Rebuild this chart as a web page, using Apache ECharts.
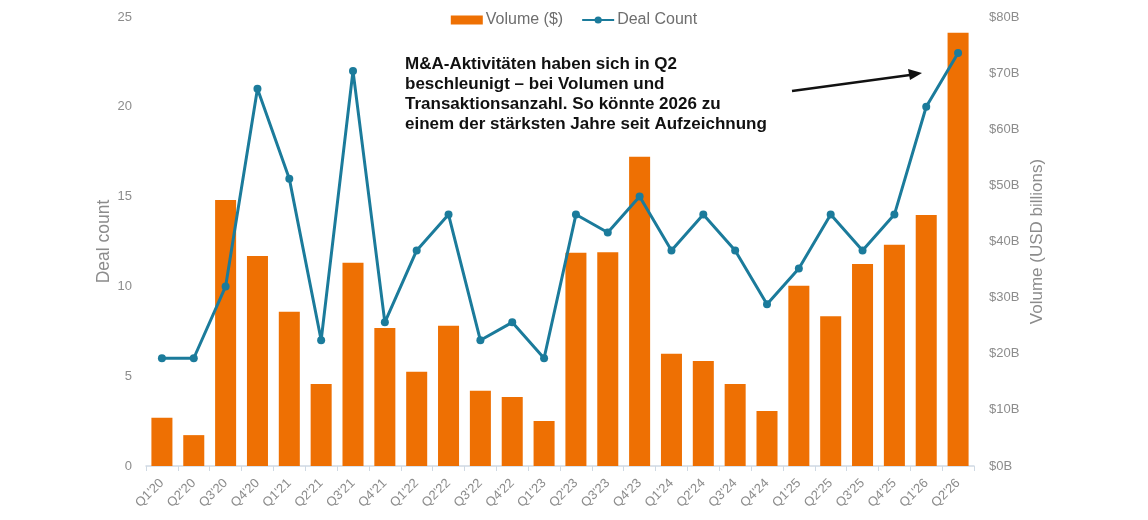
<!DOCTYPE html>
<html>
<head>
    <meta charset="utf-8">
    <title>M&amp;A Volume and Deal Count</title>
    <script src="https://cdn.jsdelivr.net/npm/echarts@6/dist/echarts.min.js"></script>
    <style>
        html, body { margin: 0; padding: 0; background: #fff; }
    </style>
</head>
<body>
    <div id="main" style="width: 1148px;height:520px;"></div>
    <script type="text/javascript">
        var quarters = ["Q1'20", "Q2'20", "Q3'20", "Q4'20", "Q1'21", "Q2'21", "Q3'21", "Q4'21",
            "Q1'22", "Q2'22", "Q3'22", "Q4'22", "Q1'23", "Q2'23", "Q3'23", "Q4'23",
            "Q1'24", "Q2'24", "Q3'24", "Q4'24", "Q1'25", "Q2'25", "Q3'25", "Q4'25",
            "Q1'26", "Q2'26"];
        // volume in USD billions
        var volume = [8.6, 5.5, 47.4, 37.4, 27.5, 14.6, 36.2, 24.6,
            16.8, 25.0, 13.4, 12.3, 8.0, 38.0, 38.1, 55.1,
            20.0, 18.7, 14.6, 9.8, 32.1, 26.7, 36.0, 39.4,
            44.7, 77.2];
        var dealCount = [6, 6, 10, 21, 16, 7, 22, 8,
            12, 14, 7, 8, 6, 14, 13, 15,
            12, 14, 12, 9, 11, 14, 12, 14,
            20, 23];
        var note = 'M&A-Aktivitäten haben sich in Q2\nbeschleunigt – bei Volumen und\n' +
            'Transaktionsanzahl. So könnte 2026 zu\neinem der stärksten Jahre seit Aufzeichnung';

        var orange = '#EE7003';
        var teal = '#1B7B9B';
        var grey = '#8c8c8c';

        var myChart = echarts.init(document.getElementById('main'));

        var option = {
            animation: false,
            textStyle: { fontFamily: 'Liberation Sans, Arial, sans-serif' },
            legend: {
                top: 7,
                left: 'center',
                itemGap: 18,
                itemWidth: 32,
                itemHeight: 9,
                textStyle: { color: '#6e6e6e', fontSize: 16, padding: [0, 0, 0, -2] },
                data: [
                    { name: 'Volume ($)', icon: 'rect' },
                    { name: 'Deal Count' }
                ]
            },
            grid: { left: 146, right: 174, top: 17, bottom: 54 },
            xAxis: {
                type: 'category',
                data: quarters,
                axisLine: { lineStyle: { color: '#cfd9e3', width: 1.5 } },
                axisTick: { show: true, lineStyle: { color: '#cfd9e3' } },
                axisLabel: { rotate: 45, color: grey, fontSize: 13, margin: 15, interval: 0 }
            },
            yAxis: [{
                type: 'value',
                min: 0, max: 25, interval: 5,
                name: 'Deal count',
                nameLocation: 'middle',
                nameGap: 33,
                nameMoveOverlap: false,
                nameTextStyle: { color: grey, fontSize: 17.5 },
                splitLine: { show: false },
                axisLine: { show: false },
                axisLabel: { color: grey, fontSize: 13, margin: 14 }
            }, {
                type: 'value',
                min: 0, max: 80, interval: 10,
                name: 'Volume (USD billions)',
                nameLocation: 'middle',
                nameGap: 55,
                nameMoveOverlap: false,
                nameTextStyle: { color: grey, fontSize: 17 },
                splitLine: { show: false },
                axisLine: { show: false },
                axisLabel: {
                    color: grey, fontSize: 13, margin: 15,
                    formatter: function (v) { return '$' + v + 'B'; }
                }
            }],
            series: [{
                name: 'Volume ($)',
                type: 'bar',
                yAxisIndex: 1,
                data: volume,
                barCategoryGap: '34%',
                itemStyle: { color: orange }
            }, {
                name: 'Deal Count',
                type: 'line',
                yAxisIndex: 0,
                data: dealCount,
                symbol: 'circle',
                symbolSize: 8,
                lineStyle: { color: teal, width: 3 },
                itemStyle: { color: teal }
            }],
            graphic: [{
                type: 'text',
                left: 405,
                top: 54,
                style: {
                    text: note,
                    fill: '#111',
                    font: 'bold 17px "Liberation Sans", Arial, sans-serif',
                    lineHeight: 20
                }
            }, {
                type: 'line',
                shape: { x1: 792, y1: 91, x2: 910, y2: 75 },
                style: { stroke: '#111', lineWidth: 2.5 }
            }, {
                type: 'polygon',
                shape: { points: [[922, 73], [908, 69], [910, 80]] },
                style: { fill: '#111' }
            }]
        };

        myChart.setOption(option);
    </script>
</body>
</html>
